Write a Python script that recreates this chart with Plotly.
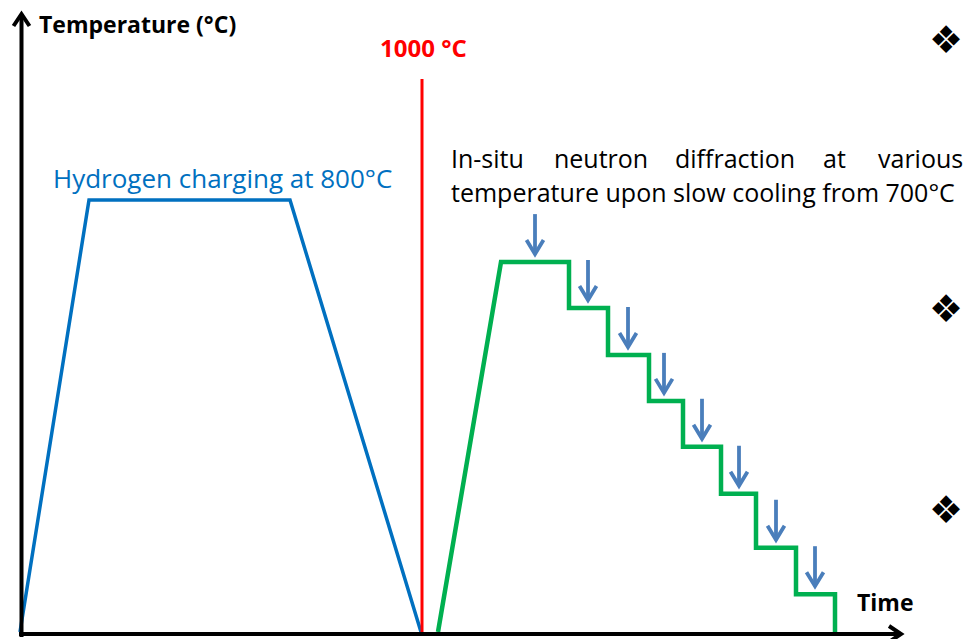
import plotly.graph_objects as go

W, H = 973, 639
OFF = 8  # default page body margin of the html page

# ---------------- data (schematic: time in arbitrary units, temperature in °C)
charge_time = [20, 89, 290, 421]
charge_temp = [0, 800, 800, 0]

heat_time = [438, 501]
heat_temp = [0, 685]
step_time = [501, 569, 608, 649, 683, 721, 756, 796, 835]
step_temp = [685, 600, 513, 428, 343, 256, 156, 70, 0]

meas_time = [535, 588, 628, 664, 702, 739, 776, 815]
meas_temp = [685, 600, 513, 428, 343, 256, 156, 70]

melt_time = 422
melt_temp = [0, 1024]

diamond_y = [40, 309, 510]

# ---------------- scale helpers (pixel layout of the schematic)
BASE = 632.0
PX = 0.54  # pixels per °C


def t_of(py):
    return (BASE - py) / PX


fig = go.Figure()

# hydrogen charging cycle
fig.add_trace(go.Scatter(x=charge_time, y=charge_temp, mode="lines",
                         line=dict(color="#0070C0", width=3.5), hoverinfo="skip"))

# heating + stepwise slow cooling
gx = list(heat_time)
gy = list(heat_temp)
for i in range(1, len(step_time)):
    gx += [step_time[i], step_time[i]]
    gy += [step_temp[i - 1], step_temp[i]]
fig.add_trace(go.Scatter(x=gx, y=gy, mode="lines",
                         line=dict(color="#00B050", width=4.5), hoverinfo="skip"))

# 1000 °C line
fig.add_trace(go.Scatter(x=[melt_time, melt_time], y=melt_temp, mode="lines",
                         line=dict(color="#FF0000", width=3), hoverinfo="skip"))

# measurement arrows
ax, ay = [], []
gap, length, hw, hh = 8 / PX, 40 / PX, 8.5, 14 / PX
for t, T in zip(meas_time, meas_temp):
    tip = T + gap
    ax += [t, t, None, t - hw, t, t + hw, None]
    ay += [tip + length, tip, None, tip + hh, tip, tip + hh, None]
fig.add_trace(go.Scatter(x=ax, y=ay, mode="lines",
                         line=dict(color="#4A7EBB", width=3.8), hoverinfo="skip"))

# axes with arrow heads
yx = 21.5
xb = t_of(634)
fig.add_trace(go.Scatter(
    x=[yx, yx, None, yx - 8, yx, yx + 8],
    y=[t_of(637), t_of(14), None, t_of(26), t_of(14), t_of(26)],
    mode="lines", line=dict(color="black", width=4), hoverinfo="skip"))
fig.add_trace(go.Scatter(
    x=[19, 901, None, 889, 901, 889],
    y=[xb, xb, None, t_of(626), xb, t_of(642)],
    mode="lines", line=dict(color="black", width=4), hoverinfo="skip"))

FONT = "Open Sans, Liberation Sans, Arial, sans-serif"


def label(x, py, text, size, color="black", bold=False, anchor="left"):
    fig.add_annotation(x=x, y=t_of(py), xref="x", yref="y", text=(f"<b>{text}</b>" if bold else text),
                       showarrow=False, xanchor=anchor, yanchor="middle",
                       font=dict(family=FONT, size=size, color=color))


label(37, 24, "Temperature (°C)", 23, bold=True)
label(423.5, 47, "1000 °C", 24, color="#FF0000", bold=True, anchor="center")
label(51, 178, "Hydrogen charging at 800°C", 26, color="#0070C0")
label(855, 602, "Time", 23, bold=True)

# justified first line of the note
words1 = ["In-situ", "neutron", "diffraction", "at", "various"]
starts1 = [449, 552, 673, 821, 876]
for w, s in zip(words1, starts1):
    label(s, 158, w, 25)
label(449, 192, "temperature upon slow cooling from 700°C", 25)

for py in diamond_y:
    fig.add_annotation(x=946, y=t_of(py), xref="x", yref="y", text="❖", showarrow=False,
                       xanchor="center", yanchor="middle",
                       font=dict(family="DejaVu Sans", size=38, color="black"))

fig.update_layout(
    width=W - OFF, height=H - OFF, margin=dict(l=0, r=0, t=0, b=0, pad=0),
    paper_bgcolor="white", plot_bgcolor="white", showlegend=False,
    xaxis=dict(range=[OFF, W], visible=False, fixedrange=True),
    yaxis=dict(range=[t_of(H), t_of(OFF)], visible=False, fixedrange=True),
)

fig.write_html("out.html", config={"displayModeBar": False})
